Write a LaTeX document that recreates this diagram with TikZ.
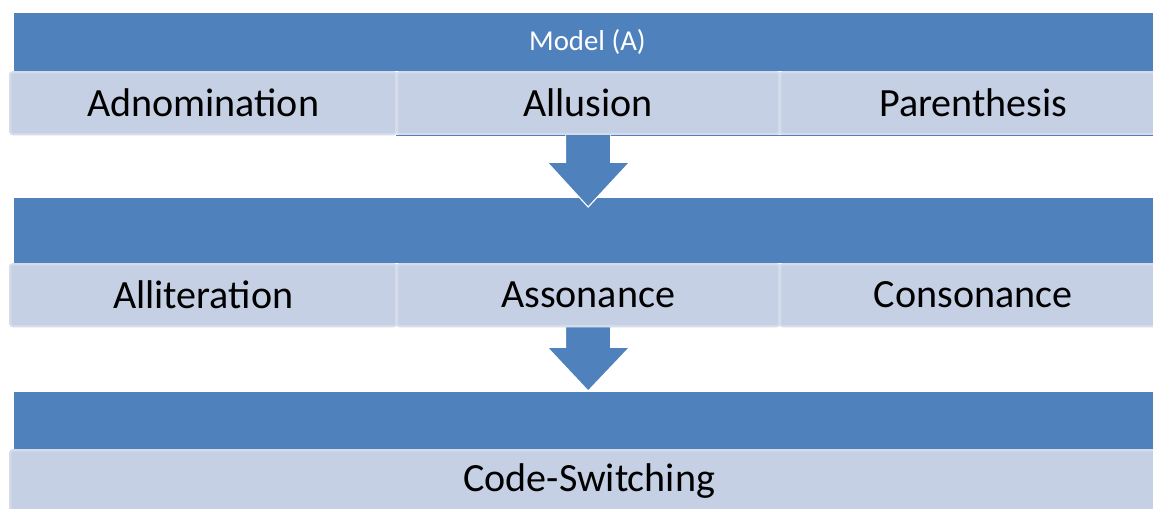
\documentclass[tikz,border=0pt]{standalone}
\usepackage{fontspec}
\setmainfont{Carlito}
\usepackage{tikz}
\usetikzlibrary{positioning,calc}

\definecolor{barblue}{HTML}{4F81BD}
\definecolor{rowfill}{HTML}{C5D0E4}
\definecolor{rowline}{HTML}{D4DCEB}

\tikzset{
  bar/.style={fill=barblue,draw=none,anchor=north west,inner sep=0pt},
  cell/.style={fill=rowfill,draw=rowline,line width=1.6pt,rounded corners=2pt,
    anchor=north west,inner sep=0pt,font=\fontsize{28.5}{32}\selectfont},
  downarrow/.style={fill=barblue,draw=white,line width=0.8pt}
}

\begin{document}
\begin{tikzpicture}[x=0.025cm,y=-0.025cm]
  \useasboundingbox[fill=white] (0,0) rectangle (1153,508);

  % first level
  \node[bar,minimum width=28.65cm,minimum height=1.45cm,text=white,
    font=\fontsize{20.5}{24}\selectfont] (bar1) at (14,13) {Model (A)};
  \node[cell,minimum width=9.65cm,minimum height=1.55cm] (adnom) at (9,71) {Adnomination};
  \node[cell,minimum width=9.55cm,minimum height=1.55cm] (allusion) at (396,71) {Allusion};
  \node[cell,minimum width=9.65cm,minimum height=1.55cm] (paren) at (779,71) {Parenthesis};
  \draw[barblue,line width=1pt] (allusion.south west) -- (paren.south east);

  % second level
  \node[bar,minimum width=28.65cm,minimum height=1.625cm] (bar2) at (14,198) {};
  \node[cell,minimum width=9.65cm,minimum height=1.55cm] (allit) at (9,263) {Alliteration};
  \node[cell,minimum width=9.55cm,minimum height=1.55cm] (asson) at (396,263) {Assonance};
  \node[cell,minimum width=9.65cm,minimum height=1.55cm] (conson) at (779,263) {Consonance};

  % third level
  \node[bar,minimum width=28.65cm,minimum height=1.425cm] (bar3) at (14,392) {};
  \node[cell,minimum width=28.95cm,minimum height=1.55cm] (codesw) at (9,449) {Code-Switching};

  % arrows
  \fill[downarrow] ($(allusion.south)+(-22.5,0)$) -- ++(0,27) -- ++(-18.5,0)
    -- ($(allusion.south |- bar2.north)+(0,9)$)
    -- ($(allusion.south)+(41.5,27)$) -- ++(-19,0) -- ++(0,-27);
  \fill[downarrow] ($(asson.south)+(-22.5,0)$) -- ++(0,20) -- ++(-18.5,0)
    -- ($(asson.south |- bar3.north)+(0,-1)$)
    -- ($(asson.south)+(41.5,20)$) -- ++(-19,0) -- ++(0,-20);
\end{tikzpicture}
\end{document}
